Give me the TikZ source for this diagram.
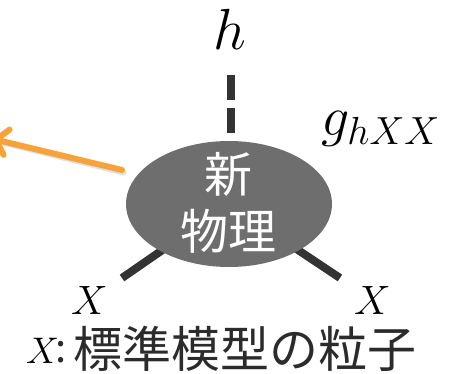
\RequirePackage{fix-cm}
\documentclass[tikz,border=0pt]{standalone}
\usepackage{fontspec}
\newfontfamily\cjk{Noto Sans CJK JP}
\usetikzlibrary{shapes.geometric,arrows.meta}
\pgfdeclarelayer{background}
\pgfsetlayers{background,main}
\definecolor{blobgray}{HTML}{6E6E6E}
\definecolor{legdark}{HTML}{333333}
\definecolor{arroworange}{HTML}{F7A23A}
\definecolor{txtdark}{HTML}{2B2B2B}
\begin{document}
\begin{tikzpicture}[x=1pt,y=-1pt,
  leg/.style={draw=legdark, line width=8pt},
  mathlbl/.style={inner sep=0pt, anchor=base west, text=black},
  blob/.style={ellipse, fill=blobgray, inner sep=0pt, minimum width=206pt, minimum height=126pt},
  arrowline/.style={line width=6pt, arroworange, line cap=round, -{Straight Barb[angle=100:17pt, round]}}]
\useasboundingbox (0,0) rectangle (459,374);
% central blob
\node[blob] (np) at (229,204) {};
\node[text=white, align=center, inner sep=0pt, font=\fontsize{48}{57}\selectfont\cjk] (npt) at (228,202.5) {新\\物理};
% labels
\node[mathlbl] (h) at (213,50) {\fontsize{58}{58}\selectfont $h$};
\node[mathlbl] (g) at (321,136) {\fontsize{56}{56}\selectfont $g_{hXX}$};
\node[mathlbl] (xl) at (71,315) {\fontsize{41}{41}\selectfont $X$};
\node[mathlbl] (xr) at (354,315) {\fontsize{41}{41}\selectfont $X$};
% legs
\coordinate (ht) at (231,75);
\coordinate (le) at (122,278);
\coordinate (re) at (340,278);
\draw[leg, dash pattern=on 25pt off 8pt] (ht) -- (ht |- np.north);
\begin{pgfonlayer}{background}
\draw[leg] (le) -- (np.center);
\draw[leg] (re) -- (np.center);
\end{pgfonlayer}
% orange arrow
\coordinate (as) at (122,170);
\coordinate (at) at (-7,139);
\draw[line width=6pt, black!30, opacity=0.4, line cap=round] ([shift={(1.5,2.5)}]as) -- ([shift={(6,2.5)}]at);
\draw[arrowline] (as) -- (at);
% legend
\node[mathlbl] (legx) at (26,364) {\fontsize{37}{37}\selectfont $X$};
\node[anchor=base, inner sep=0pt, text=txtdark, font=\fontsize{40}{40}\selectfont\cjk] (legc) at (61,363) {:};
\node[anchor=base west, inner sep=0pt, text=txtdark, font=\fontsize{49}{49}\selectfont\cjk] (legt) at (73,367.5) {標準模型の粒子};
\end{tikzpicture}
\end{document}
